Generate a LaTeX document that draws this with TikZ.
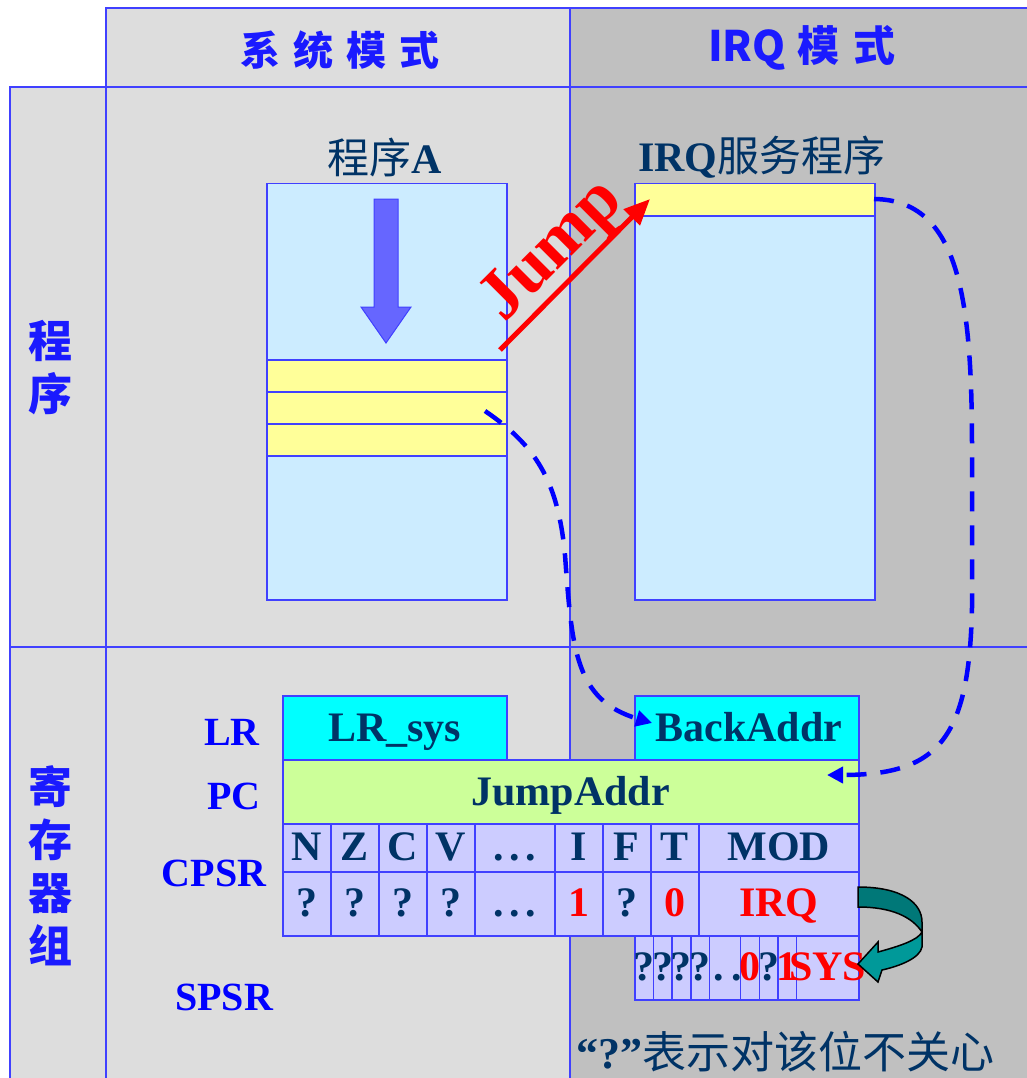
\documentclass[tikz,border=0pt]{standalone}
\usepackage{fontspec}
\setmainfont{Liberation Serif}
\newfontfamily\cjk{Noto Sans CJK SC}
\usetikzlibrary{arrows.meta}
\definecolor{lgray}{HTML}{DDDDDD}
\definecolor{dgray}{HTML}{C0C0C0}
\definecolor{gridblue}{HTML}{4040FF}
\definecolor{boxblue}{HTML}{CCECFF}
\definecolor{yel}{HTML}{FFFF99}
\definecolor{cyanbox}{HTML}{00FFFF}
\definecolor{greenbox}{HTML}{CCFF99}
\definecolor{lav}{HTML}{CCCCFF}
\definecolor{navy}{HTML}{003366}
\definecolor{teald}{HTML}{007878}
\definecolor{teall}{HTML}{009999}
\definecolor{arrowblue}{HTML}{6666FF}
\definecolor{pureblue}{HTML}{0000FF}
\definecolor{hdrblue}{HTML}{1A1AFF}
\begin{document}
\begin{tikzpicture}[x=1pt,y=-1pt,
  cell/.style={draw=gridblue, line width=1.5pt, inner sep=0pt, anchor=north west},
  regtxt/.style={text=navy, inner sep=0pt, text height=28pt, text depth=0pt, font=\fontsize{42}{42}\selectfont\bfseries},
  lbl/.style={text=pureblue, inner sep=0pt, text height=27pt, text depth=0pt, font=\fontsize{40}{40}\selectfont\bfseries},
  hdr/.style={text=hdrblue, inner sep=0pt, font=\fontsize{40}{40}\selectfont\cjk\bfseries},
  side/.style={text=hdrblue, inner sep=0pt, align=center, font=\fontsize{44}{53}\selectfont\cjk\bfseries},
  title/.style={text=navy, inner sep=0pt, font=\fontsize{42}{42}\selectfont},
  gridline/.style={draw=gridblue, line width=2pt},
  dashline/.style={draw=pureblue, line width=4.5pt, dash pattern=on 20pt off 14pt}
]
\useasboundingbox (0,0) rectangle (1026,1078);
\fill[white] (0,0) rectangle (1026,1078);
% background cells
\fill[lgray] (106,8) rectangle (570,87);
\fill[dgray] (570,8) rectangle (1030,87);
\fill[lgray] (10,87) rectangle (570,1080);
\fill[dgray] (570,87) rectangle (1030,1080);
% grid lines
\draw[gridline] (106,1080) -- (106,8) -- (1030,8);
\draw[gridline] (570,8) -- (570,1080);
\draw[gridline] (10,1080) -- (10,87) -- (1030,87);
\draw[gridline] (10,647) -- (1030,647);
% headers
\node[hdr] (hsys) at (340,50) {系\hspace{13pt}统\hspace{13pt}模\hspace{13pt}式};
\node[hdr, font=\fontsize{42}{42}\selectfont\cjk\bfseries] (hirq) at (802,48) {IRQ\hspace{12pt}模\hspace{14pt}式};
\node[side] (sprog) at (50,368) {程\\序};
\node[side] (sreg) at (50,866) {寄\\存\\器\\组};
% program A
\node[title] (tA) at (385,157) {{\cjk 程序}\textbf{A}};
\node[cell, fill=boxblue, minimum width=240pt, minimum height=416pt] (progA) at (266,183) {};
\node[cell, fill=yel, minimum width=240pt, minimum height=32pt] (ya1) at (266,359) {};
\node[cell, fill=yel, minimum width=240pt, minimum height=32pt] (ya2) at (266,391) {};
\node[cell, fill=yel, minimum width=240pt, minimum height=32pt] (ya3) at (266,423) {};
\filldraw[fill=arrowblue, draw=gridblue, line width=1pt] (374,199) -- (398,199) -- (398,307) -- (411,307) -- (386,343) -- (361,307) -- (374,307) -- cycle;
% IRQ service
\node[title] (tI) at (762,157) {\textbf{IRQ}{\cjk 服务程序}};
\node[cell, fill=boxblue, minimum width=240pt, minimum height=416pt] (progI) at (634,183) {};
\node[cell, fill=yel, minimum width=240pt, minimum height=32pt] (yi1) at (634,183) {};
% registers
\node[cell, fill=cyanbox, minimum width=224pt, minimum height=64pt] (lrsys) at (282,695) {};
\node[regtxt] at (lrsys.center) {LR\_sys};
\node[cell, fill=cyanbox, minimum width=224pt, minimum height=64pt] (back) at (634,695) {};
\node[regtxt] at ([xshift=2pt]back.center) {BackAddr};
\node[cell, fill=greenbox, minimum width=576pt, minimum height=64pt] (jaddr) at (282,759) {};
\node[regtxt] at (jaddr.center) {JumpAddr};
\foreach \a/\b/\h/\v/\c [count=\i] in {282/330/N/?/navy, 330/378/Z/?/navy, 378/426/C/?/navy, 426/474/V/?/navy, 474/554/{.\hspace{6pt}.\hspace{6pt}.}/{.\hspace{6pt}.\hspace{6pt}.}/navy, 554/602/I/1/red, 602/650/F/?/navy, 650/698/T/0/red, 698/858/MOD/IRQ/red}{
  \node[cell, fill=lav, minimum width={\b-\a}, minimum height=48pt] (h\i) at (\a,823) {};
  \node[cell, fill=lav, minimum width={\b-\a}, minimum height=64pt] (v\i) at (\a,871) {};
  \node[regtxt] at ([yshift=1pt]h\i.center) {\h};
  \node[regtxt, text=\c] at ([yshift=1pt]v\i.center) {\v};
}
\foreach \a/\b [count=\i] in {634/652.7, 652.7/671.3, 671.3/690, 690/708.7, 708.7/739.8, 739.8/758.5, 758.5/777.2, 777.2/795.8, 795.8/858}{
  \node[cell, fill=lav, minimum width={\b-\a}, minimum height=64pt] (s\i) at (\a,935) {};
}
\foreach \v/\c/\dx [count=\i] in {?/navy/0, ?/navy/0, ?/navy/0, ?/navy/0, {.\hspace{8pt}.}/navy/3, 0/red/0, ?/navy/0, 1/red/0, SYS/red/0}{
  \node[regtxt, text=\c] at ([xshift=\dx,yshift=1pt]s\i.center) {\v};
}
\node[lbl] (lLR) at (232,732) {LR};
\node[lbl] (lPC) at (234,796) {PC};
\node[lbl] (lCPSR) at (214,873) {CPSR};
\node[lbl] (lSPSR) at (224,997) {SPSR};
% teal curved arrow
\filldraw[fill=teald, draw=black, line width=1.5pt] (858,887) .. controls (902,887) and (922,903) .. (922,922) -- (922,932) .. controls (912,917) and (892,907) .. (858,907) -- cycle;
\filldraw[fill=teall, draw=black, line width=1.5pt] (922,932) -- (922,947) .. controls (920,958) and (900,966) .. (882,970) -- (878,982) -- (858,964) -- (878,942) -- (878,952) .. controls (900,946) and (918,940) .. (922,932) -- cycle;
% dashed connectors
\coordinate (d1s) at (485,411);
\coordinate (d1e) at (652,723);
\draw[dashline, -{Triangle[length=16pt,width=16pt]}] (d1s) .. controls (535,445) and (558,480) .. (565,555) .. controls (572,650) and (575,700) .. (d1e);
\coordinate (d2s) at (874,199);
\coordinate (d2e) at (827,775);
\draw[dashline, -{Triangle[length=16pt,width=16pt]}] (d2s) .. controls (960,200) and (972,300) .. (972,450) -- (972,560) .. controls (975,730) and (950,775) .. (d2e);
% Jump
\coordinate (js) at (500,350);
\coordinate (je) at (650,199);
\draw[red, line width=5pt, -{Triangle[length=26pt,width=22pt]}] (js) -- (je);
\node[text=red, inner sep=0pt, rotate=45, anchor=base, font=\fontsize{70}{70}\selectfont\bfseries] (jump) at (565,263) {Jump};
% bottom note
\node[text=navy, inner sep=0pt, font=\fontsize{44}{44}\selectfont] (note) at (785,1052) {\textbf{“?”}{\cjk 表示对该位不关心}};
\end{tikzpicture}
\end{document}
